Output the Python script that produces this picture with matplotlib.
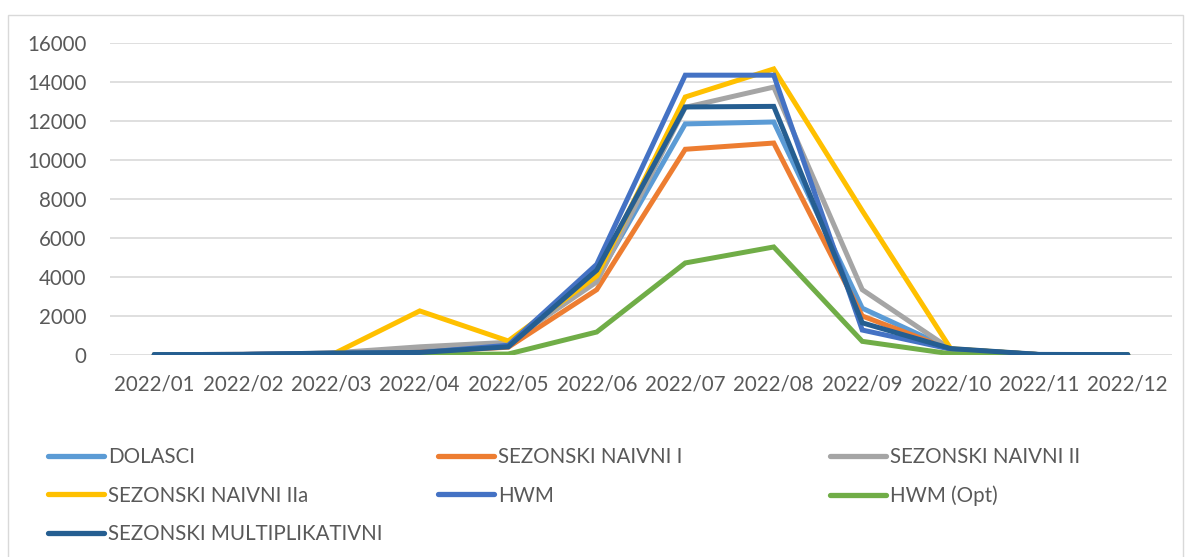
import matplotlib
matplotlib.use("Agg")
import matplotlib.pyplot as plt
from matplotlib.lines import Line2D
from matplotlib.patches import Rectangle

plt.rcParams['font.family'] = ['Lato', 'DejaVu Sans']

months = ["2022/01", "2022/02", "2022/03", "2022/04", "2022/05", "2022/06",
          "2022/07", "2022/08", "2022/09", "2022/10", "2022/11", "2022/12"]

dolasci        = [20, 30, 90, 200, 600, 3900, 11850, 11950, 2400, 300, 20, 10]
sez_naivni_i   = [20, 30, 90, 150, 400, 3350, 10550, 10870, 2000, 280, 20, 10]
sez_naivni_ii  = [20, 30, 100, 420, 650, 3750, 12700, 13740, 3350, 300, 20, 10]
sez_naivni_iia = [0, 0, 0, 2260, 720, 4050, 13230, 14670, 7400, 320, 20, 10]
hwm            = [20, 30, 80, 120, 500, 4650, 14350, 14350, 1280, 300, 20, 10]
hwm_opt        = [0, 0, 10, 20, 50, 1180, 4720, 5540, 700, 60, 10, 5]
sez_multipl    = [20, 30, 100, 130, 420, 4350, 12720, 12750, 1650, 330, 30, 20]

series = [
    ("DOLASCI", dolasci, "#5B9BD5"),
    ("SEZONSKI NAIVNI I", sez_naivni_i, "#ED7D31"),
    ("SEZONSKI NAIVNI II", sez_naivni_ii, "#A5A5A5"),
    ("SEZONSKI NAIVNI IIa", sez_naivni_iia, "#FFC000"),
    ("HWM", hwm, "#4472C4"),
    ("HWM (Opt)", hwm_opt, "#70AD47"),
    ("SEZONSKI MULTIPLIKATIVNI", sez_multipl, "#255E91"),
]

W, H = 1189, 557
FS = 14.8
fig = plt.figure(figsize=(W / 100, H / 100), dpi=100)
ax = fig.add_axes([110 / W, 1 - 355 / H, (1172 - 110) / W, (355 - 43) / H])

x = list(range(len(months)))
handles = {}
for name, vals, col in series:
    ln, = ax.plot(x, vals, color=col, lw=3.6, solid_capstyle='round',
                  solid_joinstyle='miter', label=name)
    handles[name] = ln

ax.set_xlim(-0.5, len(months) - 0.5)
ax.set_ylim(0, 16000)
ax.set_yticks(range(0, 16001, 2000))
ax.set_xticks(x)
ax.set_xticklabels(months)
ax.grid(axis='y', color='#D9D9D9', lw=1.2)
ax.set_axisbelow(True)
for s in ax.spines.values():
    s.set_visible(False)
ax.tick_params(axis='both', length=0, labelsize=FS, labelcolor='#595959')
ax.tick_params(axis='x', pad=14)
ax.tick_params(axis='y', pad=17)

# chart border
fig.add_artist(Rectangle((8 / W, -0.01), (1183 - 8) / W, 1 - 15 / H + 0.01,
                         transform=fig.transFigure, fill=False,
                         edgecolor='#D9D9D9', lw=1))

cols = [
    (["DOLASCI", "SEZONSKI NAIVNI IIa", "SEZONSKI MULTIPLIKATIVNI"], 48),
    (["SEZONSKI NAIVNI I", "HWM"], 438),
    (["SEZONSKI NAIVNI II", "HWM (Opt)"], 830),
]
for names, xpx in cols:
    hs = [Line2D([], [], color=handles[n].get_color(), lw=3.8,
                 solid_capstyle='round') for n in names]
    fig.legend(hs, names, loc='upper left',
               bbox_to_anchor=(xpx / W, 1 - 447 / H),
               frameon=False, fontsize=FS, handlelength=2.7,
               handletextpad=0.22, labelspacing=0.9,
               borderaxespad=0, borderpad=0, labelcolor='#595959')

fig.savefig("out.png", dpi=100)
